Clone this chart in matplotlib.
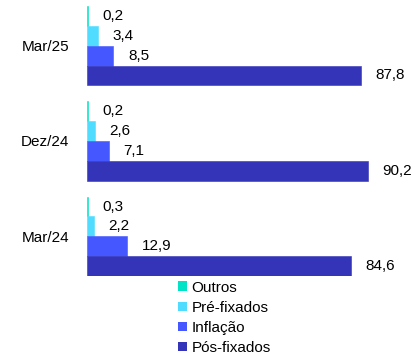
import matplotlib
matplotlib.use('Agg')
import matplotlib.pyplot as plt
from matplotlib.patches import Patch
import numpy as np

plt.rcParams['font.family'] = ['Liberation Sans', 'DejaVu Sans']
FS = 11

# Datas (de baixo para cima) e participação por indexador (%)
periodos = ['Mar/24', 'Dez/24', 'Mar/25']
outros = [0.3, 0.2, 0.2]
pre_fixados = [2.2, 2.6, 3.4]
inflacao = [12.9, 7.1, 8.5]
pos_fixados = [84.6, 90.2, 87.8]

series = [
    ('Outros', outros, '#00E3C6'),
    ('Pré-fixados', pre_fixados, '#50DCFF'),
    ('Inflação', inflacao, '#4558FF'),
    ('Pós-fixados', pos_fixados, '#3434B8'),
]

fig = plt.figure(figsize=(4.15, 3.58), dpi=100)
ax = fig.add_axes([87 / 415, (358 - 276) / 358, 311.7 / 415, 270 / 358])

h = 20 / 96
y = np.arange(len(periodos))
offsets = [1.5 * h, 0.5 * h, -0.5 * h, -1.5 * h]

for (nome, vals, cor), off in zip(series, offsets):
    ax.barh(y + off, vals, height=h, color=cor, edgecolor=cor, linewidth=0.4)
    for yi, v in zip(y, vals):
        ax.annotate(f'{v:.1f}'.replace('.', ','), xy=(v, yi + off),
                    xytext=(10.5, 0), textcoords='offset points',
                    ha='left', va='center', fontsize=FS, annotation_clip=False)

ax.set_xlim(0, 100)
ax.set_ylim(-0.5 + 0.5 * (1 - 80 / 96), len(periodos) - 0.5 - 0.5 * (1 - 80 / 96))
ax.set_yticks(y)
ax.set_yticklabels(periodos, fontsize=FS)
ax.tick_params(axis='y', length=0, pad=13)
ax.set_xticks([])
for s in ax.spines.values():
    s.set_visible(False)

handles = [Patch(facecolor=c, edgecolor='none', label=n) for n, _, c in series]
fig.legend(handles=handles, loc='upper left', bbox_to_anchor=(167 / 415, 1 - 270 / 358),
           frameon=False, fontsize=FS, handlelength=0.6, handleheight=0.6,
           handletextpad=0.3, labelspacing=0.4, borderpad=0.2)

fig.savefig('out.png', dpi=100, facecolor='white')
